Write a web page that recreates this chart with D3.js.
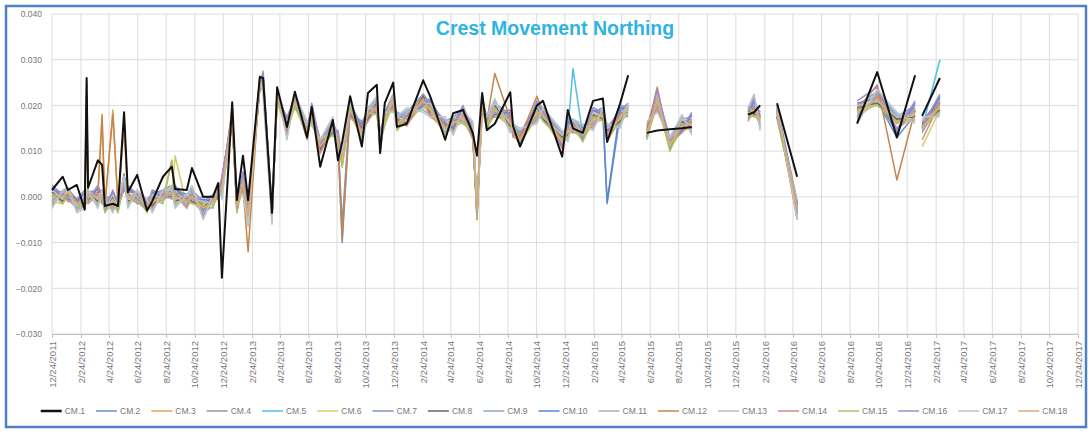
<!DOCTYPE html>
<html>
<head>
<meta charset="utf-8">
<script src="https://cdn.jsdelivr.net/npm/d3@7"></script>
<style>
  body { margin: 0; background: #fff; }
  svg { display: block; font-family: "Liberation Sans", Arial, sans-serif; }
</style>
</head>
<body>
<svg id="chart" width="1091" height="432"></svg>
<script>
// reading dates (blank cells = null values -> gaps in the lines)
const dates = [
  "2011-12-24","2012-01-16","2012-01-27","2012-02-15","2012-03-03","2012-03-07","2012-03-10","2012-03-31","2012-04-09","2012-04-15",
  "2012-05-02","2012-05-13","2012-05-26","2012-06-03","2012-06-23","2012-07-14","2012-07-25","2012-08-17","2012-09-05","2012-09-12",
  "2012-10-07","2012-10-18","2012-11-11","2012-12-02","2012-12-13","2012-12-21","2013-01-12","2013-01-22","2013-02-04","2013-02-15",
  "2013-03-12","2013-03-19","2013-04-07","2013-04-18","2013-05-09","2013-05-26","2013-06-21","2013-07-01","2013-07-19","2013-08-15",
  "2013-08-26","2013-09-04","2013-09-21","2013-10-16","2013-10-29","2013-11-17","2013-11-24","2013-12-04","2013-12-22","2013-12-30",
  "2014-01-20","2014-02-24","2014-03-11","2014-04-12","2014-04-29","2014-05-20","2014-06-10","2014-06-19","2014-06-30","2014-07-10",
  "2014-07-27","2014-08-29","2014-09-04","2014-09-19","2014-10-25","2014-11-07","2014-12-18","2014-12-30","2015-01-10","2015-01-31",
  "2015-02-22","2015-03-15","2015-03-24","2015-04-21","2015-05-08","2015-05-27","2015-06-17","2015-07-09","2015-08-05","2015-08-31",
  "2015-09-21","2015-11-20","2016-01-19","2016-02-01","2016-02-14","2016-03-02","2016-03-21","2016-05-03","2016-07-06","2016-09-08",
  "2016-10-21","2016-12-02","2017-01-10","2017-01-13","2017-01-25","2017-03-04"
];

const cm1 = [0.0015,0.0044,0.0015,0.0026,-0.0028,0.026,0.002,0.008,0.007,-0.002,
  -0.0015,-0.002,0.0185,0.001,0.0048,-0.003,-0.001,0.0044,0.0066,0.0017,
  0.0015,0.0063,0,0,0.003,-0.0177,0.0207,-0.0007,0.009,-0.0007,
  0.0262,0.026,-0.0035,0.024,0.0153,0.023,0.013,0.0197,0.0066,0.0168,
  0.008,0.012,0.022,0.011,0.0227,0.0245,0.0096,0.0205,0.025,0.0153,
  0.016,0.0255,0.022,0.0125,0.0183,0.019,0.014,0.009,0.0227,0.0146,
  0.016,0.0229,0.0155,0.011,0.02,0.021,0.0088,0.019,0.015,0.014,
  0.021,0.0215,0.012,0.0205,0.0266,null,0.014,0.0145,0.0148,0.015,
  0.0153,null,0.018,0.0185,0.02,null,0.0205,0.0044,null,0.016,
  0.0273,0.013,0.0266,null,0.0177,0.026];

const cm2 = [0.0005,-0.001,0.001,-0.002,-0.0005,0.0005,0.001,-0.0005,0.0005,-0.0015,
  -0.0005,-0.002,0.004,0.0005,-0.0005,-0.0025,-0.001,0.0005,0.0015,0,
  -0.0005,0.001,-0.003,-0.0005,0.0015,0.002,0.018,-0.003,0.004,-0.004,
  0.0255,0.0245,-0.004,0.0225,0.0155,0.0205,0.0145,0.0185,0.0105,0.0155,
  0.0115,-0.01,0.0195,0.0135,0.0185,0.02,0.0115,0.0175,0.0215,0.0155,
  0.0175,0.0205,0.0195,0.0145,0.0165,0.018,0.0135,-0.0035,0.0205,0.0155,
  0.0195,0.017,0.014,0.013,0.019,0.0175,0.0125,0.014,0.016,0.013,
  0.0175,0.0185,-0.0015,0.018,0.0185,null,0.0145,0.0205,0.012,0.015,
  0.0165,null,0.0185,0.0185,0.0175,null,0.019,-0.003,null,0.019,
  0.021,0.013,0.018,null,0.0155,0.0205];

const cm3 = [-0.0005,0.0005,0,-0.001,-0.0015,-0.0005,0,0.0005,0.017,-0.0025,
  0.019,-0.0015,0.0025,-0.0005,0.0005,-0.0015,-0.0015,-0.0005,0.008,0.0005,
  -0.0015,-0.0005,-0.002,-0.0015,0.0005,0.0015,0.0165,-0.0015,0.0025,-0.0045,
  0.0245,0.0255,-0.003,0.0215,0.0145,0.0215,0.0135,0.0175,0.0115,0.0145,
  0.0125,0.0085,0.0185,0.0145,0.0175,0.019,0.0125,0.0165,0.0205,0.0165,
  0.0165,0.0215,0.0185,0.0155,0.0155,0.017,0.0145,-0.0025,0.0195,0.0165,
  0.0185,0.016,0.015,0.012,0.018,0.0185,0.0115,0.015,0.015,0.014,
  0.0165,0.0175,0.014,0.017,0.0195,null,0.0135,0.0215,0.011,0.016,
  0.0155,null,0.0175,0.0195,0.0165,null,0.018,-0.002,null,0.018,
  0.022,0.0165,0.019,null,0.0145,0.0195];

const cm4 = [0.001,0.0005,0.0015,-0.0005,0,0.001,0.0005,0.001,0.001,-0.001,
  0,-0.001,0.0035,0.001,0.001,-0.001,0,0.001,0.002,0.001,
  0,0.0005,-0.0015,0,0.002,0.003,0.0175,-0.001,0.0045,-0.003,
  0.026,0.025,-0.0025,0.023,0.016,0.022,0.015,0.019,0.012,0.016,
  0.013,0.009,0.02,0.015,0.019,0.0205,0.013,0.018,0.022,0.017,
  0.018,0.022,0.02,0.016,0.017,0.0185,0.015,-0.002,0.021,0.017,
  0.02,0.0175,0.0155,0.0135,0.0195,0.019,0.013,0.0155,0.0165,0.0145,
  0.018,0.019,0.0145,0.0185,0.02,null,0.015,0.022,0.0125,0.0165,
  0.017,null,0.019,0.02,0.018,null,0.0195,-0.0015,null,0.0195,
  0.0225,0.017,0.0195,null,0.016,0.021];

const cm5 = [-0.0005,0,0.0005,-0.002,-0.001,0,-0.0005,0,-0.0005,-0.002,
  -0.0015,-0.0025,0.002,0,-0.0005,-0.002,-0.0005,0,0.0005,-0.0005,
  -0.001,0,-0.0035,-0.001,0.001,0.0015,0.017,-0.0025,0.003,-0.0045,
  0.025,0.0245,-0.004,0.022,0.015,0.0225,0.014,0.018,0.011,0.015,
  0.012,0.007,0.019,0.014,0.018,0.0195,0.012,0.017,0.021,0.016,
  0.017,0.021,0.019,0.015,0.016,0.0175,0.014,-0.003,0.02,0.016,
  0.019,0.0165,0.0145,0.0125,0.0185,0.018,0.012,0.0145,0.028,0.0135,
  0.017,0.018,0.0135,0.0175,0.019,null,0.014,0.021,0.0115,0.0155,
  0.016,null,0.018,0.019,0.017,null,0.0185,-0.0025,null,0.0185,
  0.0215,0.016,0.0185,null,0.015,0.03];

const cm6 = [-0.001,-0.0015,0,-0.0025,-0.002,-0.001,-0.0005,-0.001,-0.001,-0.003,
  -0.002,-0.003,0.002,-0.001,-0.001,-0.003,-0.002,-0.0005,0,0.009,
  -0.002,-0.001,-0.0035,-0.002,0,0.001,0.016,-0.003,0.002,-0.005,
  0.024,0.024,-0.0045,0.021,0.014,0.02,0.013,0.017,0.01,0.014,
  0.011,0.007,0.018,0.013,0.017,0.0185,0.011,0.016,0.02,0.015,
  0.016,0.02,0.018,0.014,0.015,0.0165,0.013,-0.004,0.019,0.015,
  0.018,0.0155,0.0135,0.0115,0.0175,0.017,0.011,0.0135,0.0145,0.0125,
  0.016,0.017,0.0125,0.0165,0.018,null,0.013,0.02,0.0105,0.0145,
  0.015,null,0.017,0.018,0.016,null,0.0175,-0.0035,null,0.0175,
  0.0205,0.015,0.0175,null,0.011,0.019];

const cm7 = [0.0015,0.001,0.002,-0.001,0.0005,0.0015,0.001,0.0015,0.001,-0.0005,
  0.0005,-0.0005,0.0045,0.0015,0.001,-0.0005,0.0005,0.0015,0.0025,0.0015,
  0.0005,0.0015,-0.001,0.0005,0.0025,0.0035,0.0185,-0.0005,0.005,-0.0025,
  0.0255,0.026,-0.002,0.0235,0.0165,0.0225,0.0155,0.0195,0.0125,0.0165,
  0.0135,-0.006,0.0205,0.0155,0.0195,0.021,0.0135,0.0185,0.0225,0.0175,
  0.0185,0.0225,0.0205,0.0165,0.0175,0.019,0.0155,-0.0015,0.0215,0.0175,
  0.0205,0.018,0.016,0.014,0.02,0.0195,0.0135,0.016,0.017,0.015,
  0.0185,0.0195,0.015,0.019,0.0205,null,0.0155,0.0225,0.013,0.017,
  0.0175,null,0.0195,0.0205,0.0185,null,0.02,-0.001,null,0.02,
  0.023,0.0175,0.02,null,0.0165,0.0215];

const cm8 = [0.001,-0.001,0.0005,-0.0005,-0.002,0.022,0.001,-0.001,0.001,-0.002,
  0,-0.003,0.005,-0.001,0,-0.001,-0.002,0.001,0.001,-0.001,
  0,-0.001,-0.0025,0,0,0.004,0.018,-0.003,0.005,-0.005,
  0.024,0.026,-0.0045,0.023,0.014,0.022,0.013,0.019,0.01,0.016,
  0.011,0.009,0.018,0.015,0.017,0.0205,0.011,0.018,0.02,0.017,
  0.016,0.022,0.018,0.016,0.015,0.0185,0.013,-0.003,0.021,0.015,
  0.02,0.0155,0.0155,0.0115,0.0195,0.017,0.013,0.0135,0.0165,0.0125,
  0.018,0.017,0.0145,0.0165,0.02,null,0.013,0.022,0.0105,0.0165,
  0.015,null,0.019,0.018,0.018,null,0.0175,-0.0015,null,0.0195,
  0.0205,0.017,0.0175,null,0.016,0.019];

const cm9 = [-0.001,0.001,-0.0005,-0.0025,0,-0.001,0.001,0,-0.001,-0.001,
  -0.002,-0.001,0.002,0.001,-0.001,-0.003,0,-0.001,0.002,0.001,
  -0.002,0.001,-0.0035,-0.002,0.002,0.001,0.016,-0.001,0.002,-0.003,
  0.026,0.024,-0.0025,0.021,0.016,0.02,0.015,0.017,0.012,0.014,
  0.013,0.007,0.02,0.013,0.019,0.0185,0.013,0.016,0.022,0.015,
  0.018,0.02,0.02,0.014,0.017,0.0165,0.015,-0.004,0.019,0.017,
  0.018,0.0175,0.0135,0.0135,0.0175,0.019,0.011,0.0155,0.0145,0.0145,
  0.016,0.019,0.0125,0.0185,0.018,null,0.015,0.02,0.0125,0.0145,
  0.017,null,0.017,0.02,0.016,null,0.0195,-0.0035,null,0.0175,
  0.0225,0.015,0.0195,null,0.014,0.021];

const cm10 = [0.002,0,-0.0005,-0.001,0.001,0,-0.001,0.002,0,-0.003,
  0.001,-0.002,0.002,0.002,0,-0.003,0.001,0,0,0.002,
  -0.001,-0.001,-0.0005,-0.001,0,0.004,0.017,-0.003,0.005,-0.004,
  0.024,0.027,-0.0035,0.021,0.017,0.021,0.013,0.02,0.011,0.014,
  0.014,0.008,0.018,0.016,0.018,0.0185,0.014,0.017,0.02,0.018,
  0.017,0.02,0.021,0.015,0.015,0.0195,0.014,-0.004,0.022,0.016,
  0.018,0.0185,0.0145,0.0115,0.0205,0.018,0.011,0.0165,0.0155,0.0125,
  0.019,0.018,-0.001,0.0195,0.019,null,0.013,0.023,0.0115,0.0145,
  0.018,null,0.018,0.021,0.017,null,0.0175,-0.0025,null,0.0205,
  0.0215,0.014,0.0205,null,0.015,0.022];

const cm11 = [-0.002,0.001,0.0015,-0.003,-0.002,0.001,0.001,-0.002,0.001,-0.001,
  -0.003,-0.001,0.004,-0.002,0.001,-0.001,-0.003,0.001,0.001,-0.002,
  0,0.002,-0.0045,0,0.002,0,0.018,0,0.001,-0.006,
  0.025,0.023,-0.0055,0.023,0.013,0.022,0.016,0.016,0.012,0.017,
  0.01,0.009,0.021,0.012,0.019,0.0215,0.01,0.018,0.019,0.017,
  0.019,0.019,0.018,0.017,0.014,0.0185,0.016,-0.002,0.018,0.017,
  0.021,0.0145,0.0155,0.0145,0.0165,0.019,0.014,0.0125,0.0165,0.0155,
  0.015,0.019,0.0155,0.0155,0.02,null,0.016,0.019,0.0125,0.0175,
  0.014,null,0.019,0.022,0.015,null,0.0195,-0.0045,null,0.0165,
  0.023,0.018,0.0165,null,0.017,0.018];

const cm12 = [0,0.0005,0.0005,-0.001,-0.001,0.025,0.0005,0.0005,0.018,-0.0015,
  0.018,-0.0015,0.017,0,0.0005,-0.0015,-0.0005,0.0005,0.0015,0.0005,
  -0.0005,0.0005,-0.002,-0.0005,0.0015,0.0025,0.0195,-0.002,0.002,-0.012,
  0.0255,0.0255,-0.005,0.0225,0.0155,0.0215,0.0145,0.0185,0.0115,0.0155,
  0.0125,-0.009,0.0195,0.0145,0.0185,0.02,0.0125,0.0175,0.0215,0.0165,
  0.0175,0.0215,0.0195,0.0155,0.0165,0.018,0.0145,-0.005,0.0205,0.0165,
  0.027,0.017,0.015,0.013,0.022,0.0185,0.0125,0.015,0.016,0.014,
  0.0175,0.0185,0.014,0.018,0.0195,null,0.0145,0.024,0.011,0.016,
  0.0165,null,0.0185,0.0195,0.0175,null,0.019,-0.005,null,0.019,
  0.0245,0.0037,0.019,null,0.0155,0.0205];

const cm13 = [0.0015,-0.0005,0.002,-0.002,0.0005,-0.0005,0.0015,-0.0005,0.0015,-0.0025,
  0.0005,-0.0025,0.0045,-0.0005,0.0015,-0.0025,0.0005,-0.0005,0.0025,-0.0005,
  0.0005,-0.0005,-0.001,-0.0015,0.0025,0.0015,0.0185,-0.0025,0.0045,-0.0045,
  0.0265,0.0245,-0.002,0.0215,0.0165,0.0205,0.0155,0.0175,0.0125,0.0145,
  0.0135,0.0075,0.0205,0.0135,0.0195,0.019,0.0135,0.0165,0.0225,0.0155,
  0.0185,0.0205,0.0205,0.0145,0.0175,0.017,0.0155,-0.0035,0.0215,0.0155,
  0.0205,0.016,0.016,0.012,0.02,0.0175,0.0135,0.014,0.017,0.013,
  0.0185,0.0175,0.015,0.017,0.0205,null,0.0135,0.0225,0.011,0.017,
  0.0155,null,0.0195,0.0185,0.0185,null,0.018,-0.001,null,0.02,
  0.021,0.0175,0.018,null,0.0165,0.0195];

const cm14 = [-0.0015,0.0005,-0.001,-0.001,-0.0025,0.0005,-0.0015,0.0005,-0.0015,-0.0015,
  -0.0025,-0.0015,0.0015,0.0005,-0.0015,-0.0015,-0.0025,0.0005,-0.0005,0.0005,
  -0.0025,0.0005,-0.004,-0.0005,-0.0005,0.0025,0.0155,-0.0015,0.0015,-0.0035,
  0.0235,0.0255,-0.005,0.0225,0.0135,0.0215,0.0125,0.0185,0.0095,0.0155,
  0.0105,0.0085,0.0175,0.0145,0.0165,0.02,0.0105,0.0175,0.0195,0.0165,
  0.0155,0.0215,0.0175,0.0155,0.0145,0.018,0.0125,-0.0025,0.0185,0.0165,
  0.0175,0.017,0.013,0.013,0.017,0.0185,0.0105,0.015,0.014,0.014,
  0.0155,0.0185,0.012,0.018,0.0175,null,0.0145,0.0195,0.012,0.014,
  0.0165,null,0.0165,0.0195,0.0155,null,0.019,-0.004,null,0.017,
  0.022,0.0145,0.019,null,0.0125,0.0205];

const cm15 = [0.0005,-0.0015,0.001,-0.003,-0.0005,-0.0015,0.0005,-0.0015,0.0005,-0.0035,
  -0.0005,-0.0035,0.0035,-0.0015,0.0005,-0.0035,-0.0005,-0.0015,0.008,-0.0015,
  -0.0005,-0.0015,-0.002,-0.0025,0.0015,0.0005,0.0175,-0.0035,0.0035,-0.0055,
  0.0255,0.0235,-0.003,0.0205,0.0155,0.0195,0.0145,0.0165,0.0115,0.0135,
  0.0125,0.0065,0.0195,0.0125,0.0185,0.018,0.0125,0.0155,0.0215,0.0145,
  0.0175,0.0195,0.0195,0.0135,0.0165,0.016,0.0145,-0.0045,0.0205,0.0145,
  0.0195,0.015,0.015,0.011,0.019,0.0165,0.0125,0.013,0.016,0.012,
  0.0175,0.0165,0.014,0.016,0.0195,null,0.0125,0.0215,0.01,0.016,
  0.0145,null,0.0185,0.0175,0.0175,null,0.017,-0.002,null,0.019,
  0.02,0.0165,0.017,null,0.0155,0.0185];

const cm16 = [0.0025,0.0005,0,-0.0005,0.0015,0.0005,-0.0005,0.0025,0.0005,-0.0025,
  0.0015,-0.0015,0.0025,0.0025,0.0005,-0.0025,0.0015,0.0005,0.0005,0.0025,
  -0.0005,-0.0005,0,-0.0005,0.0005,0.0045,0.0175,-0.0025,0.0055,-0.0035,
  0.0245,0.0275,-0.003,0.0215,0.0175,0.0215,0.0135,0.0205,0.0115,0.0145,
  0.0145,0.0085,0.0185,0.0165,0.0185,0.019,0.0145,0.0175,0.0205,0.0185,
  0.0175,0.0205,0.0215,0.0155,0.0155,0.02,0.0145,-0.0035,0.0225,0.0165,
  0.0185,0.019,0.015,0.012,0.021,0.0185,0.0115,0.017,0.016,0.013,
  0.0195,0.0185,0.0135,0.02,0.0195,null,0.0135,0.0235,0.012,0.015,
  0.0185,null,0.0185,0.0215,0.0175,null,0.018,-0.002,null,0.021,
  0.024,0.0145,0.021,null,0.0155,0.0225];

const cm17 = [-0.0025,0.0015,0.002,-0.0035,-0.0025,0.0015,0.0015,-0.0025,0.0015,-0.0005,
  -0.0035,-0.0005,0.0045,-0.0025,0.0015,-0.0005,-0.0035,0.0015,0.0015,-0.0025,
  0.0005,0.0025,-0.005,0.0005,0.0025,-0.0005,0.0185,0.0005,0.0005,-0.0065,
  0.0255,0.0225,-0.006,0.0235,0.0125,0.0225,0.0165,0.0155,0.0125,0.0175,
  0.0095,0.0095,0.0215,0.0115,0.0195,0.022,0.0095,0.0185,0.0185,0.0175,
  0.0195,0.0185,0.0175,0.0175,0.0135,0.019,0.0165,-0.0015,0.0175,0.0175,
  0.0215,0.014,0.016,0.015,0.016,0.0195,0.0145,0.012,0.017,0.016,
  0.0145,0.0195,0.016,0.015,0.0205,null,0.0165,0.0185,0.013,0.018,
  0.0135,null,0.0195,0.0225,0.0145,null,0.02,-0.005,null,0.016,
  0.0235,0.0185,0.016,null,0.0175,0.0175];

const cm18 = [0.0005,0,0.001,-0.0015,-0.0015,0.02,0,0,0,-0.002,
  -0.001,-0.002,0.015,0,0,-0.002,-0.001,0,0.001,0,
  -0.001,0,-0.0025,-0.001,0.001,0.002,0.017,-0.002,0.003,-0.004,
  0.025,0.025,-0.0035,0.022,0.015,0.021,0.014,0.018,0.011,0.015,
  0.012,0.008,0.019,0.014,0.018,0.0195,0.012,0.017,0.021,0.016,
  0.017,0.021,0.019,0.015,0.016,0.0175,0.014,-0.003,0.02,0.016,
  0.019,0.0165,0.0145,0.0125,0.0185,0.018,0.012,0.0145,0.0155,0.0135,
  0.017,0.018,0.0135,0.0175,0.019,null,0.014,0.021,0.0115,0.0155,
  0.016,null,0.018,0.019,0.017,null,0.0185,-0.0025,null,0.0185,
  0.0215,0.016,0.0185,null,0.015,0.02];

const seriesNames = ["CM.1","CM.2","CM.3","CM.4","CM.5","CM.6","CM.7","CM.8","CM.9",
  "CM.10","CM.11","CM.12","CM.13","CM.14","CM.15","CM.16","CM.17","CM.18"];
const seriesValues = [cm1, cm2, cm3, cm4, cm5, cm6, cm7, cm8, cm9,
  cm10, cm11, cm12, cm13, cm14, cm15, cm16, cm17, cm18];

const xTickLabels = ["12/24/2011","2/24/2012","4/24/2012","6/24/2012","8/24/2012","10/24/2012",
  "12/24/2012","2/24/2013","4/24/2013","6/24/2013","8/24/2013","10/24/2013",
  "12/24/2013","2/24/2014","4/24/2014","6/24/2014","8/24/2014","10/24/2014",
  "12/24/2014","2/24/2015","4/24/2015","6/24/2015","8/24/2015","10/24/2015",
  "12/24/2015","2/24/2016","4/24/2016","6/24/2016","8/24/2016","10/24/2016",
  "12/24/2016","2/24/2017","4/24/2017","6/24/2017","8/24/2017","10/24/2017","12/24/2017"];
const yTicks = [-0.03, -0.02, -0.01, 0, 0.01, 0.02, 0.03, 0.04];

// styles
const colors = ["#111111","#6a8fcf","#dba656","#9a9a9a","#4fbfe3","#d6cc68","#7f98c2","#666666","#93a6c2",
  "#5a86d4","#a0b2c4","#c8844a","#bdbdbd","#cf8d86","#a8c46a","#a48dc6","#bcc4cf","#d9ad72"];
const chartTitle = "Crest Movement Northing";

const svg = d3.select("#chart");
const parseDay = d3.timeParse("%Y-%m-%d");
const parseTick = d3.timeParse("%m/%d/%Y");
const dayValues = dates.map(parseDay);

const plot = { left: 52, right: 1078, top: 14, bottom: 334 };

const x = d3.scaleTime()
  .domain([parseTick(xTickLabels[0]), parseTick(xTickLabels[xTickLabels.length - 1])])
  .range([plot.left, plot.right]);
const y = d3.scaleLinear()
  .domain([d3.min(yTicks), d3.max(yTicks)])
  .range([plot.bottom, plot.top]);

// outer frame
svg.append("rect")
  .attr("x", 6).attr("y", 6).attr("width", 1080).attr("height", 421)
  .attr("fill", "#fff").attr("stroke", "#4f7fc4").attr("stroke-width", 2.5);

// gridlines
const grid = svg.append("g");
grid.selectAll("line.h")
  .data(yTicks)
  .join("line")
  .attr("class", "h")
  .attr("x1", plot.left).attr("x2", plot.right)
  .attr("y1", function (d) { return y(d); })
  .attr("y2", function (d) { return y(d); })
  .attr("stroke", "#dcdcdc").attr("stroke-width", 1);

const tickDates = xTickLabels.map(parseTick);
grid.selectAll("line.v")
  .data(tickDates)
  .join("line")
  .attr("class", "v")
  .attr("x1", function (d) { return x(d); })
  .attr("x2", function (d) { return x(d); })
  .attr("y1", plot.top).attr("y2", plot.bottom)
  .attr("stroke", "#dcdcdc").attr("stroke-width", 1);

// y axis labels
const yAxis = d3.axisLeft(y).tickValues(yTicks).tickFormat(d3.format(".3f")).tickSize(0).tickPadding(10);
svg.append("g")
  .attr("transform", "translate(" + plot.left + ",0)")
  .call(yAxis)
  .call(function (g) { g.select(".domain").remove(); })
  .selectAll("text")
  .attr("font-size", 8.5).attr("fill", "#777").attr("font-family", "Liberation Sans, Arial, sans-serif");

// x axis
const xAxis = d3.axisBottom(x).tickValues(tickDates)
  .tickFormat(function (d, i) { return xTickLabels[i]; })
  .tickSize(4).tickPadding(3);
const gx = svg.append("g")
  .attr("transform", "translate(0," + plot.bottom + ")")
  .call(xAxis);
gx.select(".domain").attr("stroke", "#bfbfbf");
gx.selectAll(".tick line").attr("stroke", "#bfbfbf");
gx.selectAll("text")
  .attr("font-size", 9.5).attr("fill", "#777").attr("font-family", "Liberation Sans, Arial, sans-serif")
  .attr("text-anchor", "end")
  .attr("transform", "rotate(-90)")
  .attr("x", -7).attr("y", 0).attr("dy", "0.33em");

// series lines
const line = d3.line()
  .defined(function (d) { return d[1] != null; })
  .x(function (d) { return x(d[0]); })
  .y(function (d) { return y(d[1]); });

const drawOrder = d3.range(1, seriesValues.length).concat([0]);
svg.append("g")
  .selectAll("path")
  .data(drawOrder)
  .join("path")
  .attr("d", function (k) {
    return line(dayValues.map(function (dt, i) { return [dt, seriesValues[k][i]]; }));
  })
  .attr("fill", "none")
  .attr("stroke", function (k) { return colors[k]; })
  .attr("stroke-width", function (k) { return k === 0 ? 2 : 1.5; })
  .attr("stroke-linejoin", "round");

// title
svg.append("text")
  .attr("x", 555).attr("y", 35)
  .attr("text-anchor", "middle")
  .attr("font-size", 19.5).attr("font-weight", "bold")
  .attr("fill", "#2fb4e0")
  .text(chartTitle);

// legend
const legend = svg.append("g");
const items = legend.selectAll("g")
  .data(seriesNames)
  .join("g");
items.append("line")
  .attr("x1", 0).attr("x2", 21).attr("y1", 0).attr("y2", 0)
  .attr("stroke", function (d, i) { return colors[i]; })
  .attr("stroke-width", function (d, i) { return i === 0 ? 2.5 : 1.5; });
items.append("text")
  .attr("x", 24).attr("y", 0).attr("dy", "0.35em")
  .attr("font-size", 8.5).attr("fill", "#777")
  .text(function (d) { return d; });

let cursor = 0;
items.each(function () {
  const g = d3.select(this);
  const w = g.select("text").node().getComputedTextLength();
  g.attr("transform", "translate(" + cursor + ",0)");
  cursor += 24 + w + 11;
});
const legendWidth = cursor - 11;
legend.attr("transform", "translate(" + (554 - legendWidth / 2) + ",411)");
</script>
</body>
</html>
